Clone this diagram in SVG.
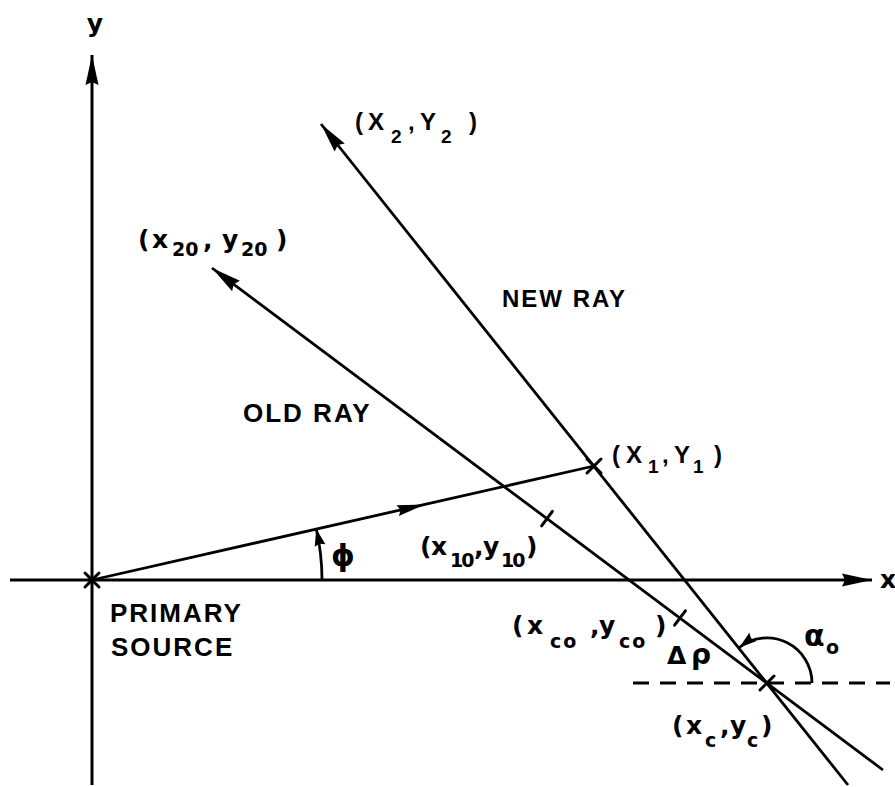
<svg xmlns="http://www.w3.org/2000/svg" width="895" height="787" viewBox="0 0 895 787">
<style>
.ln{stroke:#000;stroke-width:2.8;fill:none;stroke-linecap:butt}
.ax{stroke:#000;stroke-width:3;fill:none}
.thin{stroke:#000;stroke-width:2.8;fill:none}
.cr{stroke:#000;stroke-width:3;stroke-linecap:round}
text{font-family:"Liberation Sans",Arial,sans-serif;font-weight:bold;fill:#000}
.lab{font-size:24px}
.low{font-family:"DejaVu Sans",sans-serif;font-size:25px}
.sub{font-size:19px}
.big{font-size:26px;letter-spacing:2px}
.gr{font-family:"DejaVu Sans",sans-serif;font-weight:bold}
</style>
<defs>
<marker id="ah" markerUnits="userSpaceOnUse" markerWidth="34" markerHeight="16" refX="30" refY="8" orient="auto" overflow="visible">
<path d="M0,1.5 L30,8 L0,14.5 L3,8 z" fill="#000"/>
</marker>
<marker id="ahs" markerUnits="userSpaceOnUse" markerWidth="20" markerHeight="14" refX="17" refY="7" orient="auto" overflow="visible">
<path d="M0,1.5 L17,7 L0,12.5 L2,7 z" fill="#000"/>
</marker>
<marker id="ahm" markerUnits="userSpaceOnUse" markerWidth="34" markerHeight="16" refX="28" refY="8" orient="auto" overflow="visible">
<path d="M0,2.5 L28,8 L0,13.5 L3,8 z" fill="#000"/>
</marker>
</defs>

<g id="connectors">
<path id="y-axis" class="ax" d="M92,785 L92,55" marker-end="url(#ah)"/>
<path id="x-axis" class="ax" d="M10,580 L872,580" marker-end="url(#ah)"/>
<path id="new-ray" class="ln" d="M848,785 L321,124" marker-end="url(#ah)"/>
<path id="old-ray" class="ln" d="M883,770 L212,268" marker-end="url(#ah)"/>
<path id="source-ray" class="ln" d="M92,580 L425,504.4 L594,466" marker-mid="url(#ahm)"/>
<path id="dashed" class="thin" d="M633,683 L890,683" stroke-dasharray="16 11"/>
<path id="phi-arc" class="thin" d="M322,580 A230,230 0 0 0 316.3,529" marker-end="url(#ahs)"/>
<path id="alpha-arc" class="thin" d="M812,683 A45,45 0 0 0 739.3,647.5" marker-end="url(#ahs)"/>
</g>

<g id="origin">
<line class="cr" x1="85" y1="573" x2="99" y2="587"/>
<line class="cr" x1="99" y1="573" x2="85" y2="587"/>
</g>
<g id="p-x1y1">
<line class="cr" x1="587" y1="459" x2="601" y2="473"/>
<line class="cr" x1="601" y1="459" x2="587" y2="473"/>
</g>
<g id="p-x10y10">
<line class="cr" x1="552.4" y1="511.4" x2="541.6" y2="525.8"/>
</g>
<g id="p-xcoyco">
<line class="cr" x1="685.4" y1="610.8" x2="674.6" y2="625.2"/>
</g>
<g id="p-xcyc">
<line class="cr" x1="760" y1="676" x2="774" y2="690"/>
<line class="cr" x1="774" y1="676" x2="760" y2="690"/>
</g>

<g id="labels">
<text class="low" x="95" y="32" text-anchor="middle">y</text>
<text class="low" x="880" y="588">x</text>
<text class="lab"><tspan x="355" y="130">(</tspan><tspan x="368" y="130">X</tspan><tspan class="sub" x="391" y="143">2</tspan><tspan x="408" y="130">,</tspan><tspan x="420" y="130">Y</tspan><tspan class="sub" x="441" y="143">2</tspan><tspan x="469" y="130">)</tspan></text>
<text class="low"><tspan x="138" y="248">(</tspan><tspan x="152" y="248">x</tspan><tspan class="sub" x="172" y="256">20</tspan><tspan x="203" y="248">,</tspan><tspan x="222" y="248">y</tspan><tspan class="sub" x="241" y="256">20</tspan><tspan x="276" y="248">)</tspan></text>
<text class="lab" x="502" y="307" letter-spacing="2">NEW RAY</text>
<text class="big" x="243" y="422">OLD RAY</text>
<text class="lab"><tspan x="612" y="463">(</tspan><tspan x="626" y="463">X</tspan><tspan class="sub" x="648" y="473">1</tspan><tspan x="662" y="463">,</tspan><tspan x="674" y="463">Y</tspan><tspan class="sub" x="693" y="473">1</tspan><tspan x="714" y="463">)</tspan></text>
<text class="low"><tspan x="420" y="555">(</tspan><tspan x="431" y="555">x</tspan><tspan class="sub" x="450" y="567" font-size="17" letter-spacing="-2">10</tspan><tspan x="474" y="555">,</tspan><tspan x="483" y="555">y</tspan><tspan class="sub" x="501" y="567" font-size="17" letter-spacing="-2">10</tspan><tspan x="526" y="555">)</tspan></text>
<text class="big" x="110" y="622">PRIMARY</text>
<text class="big" x="111" y="656">SOURCE</text>
<text class="gr" x="343" y="566" font-size="30" text-anchor="middle">ϕ</text>
<text class="low"><tspan x="512" y="634">(</tspan><tspan x="527" y="634">x</tspan><tspan class="sub" x="550" y="648" letter-spacing="2">co</tspan><tspan x="590" y="634">,</tspan><tspan x="599" y="634">y</tspan><tspan class="sub" x="619" y="648" letter-spacing="2">co</tspan><tspan x="655" y="634">)</tspan></text>
<text class="low"><tspan x="667" y="664">Δ</tspan><tspan class="gr" x="691" y="664" font-size="28">ρ</tspan></text>
<text class="low"><tspan class="gr" x="804" y="646" font-size="30">α</tspan><tspan class="sub" x="826" y="654">o</tspan></text>
<text class="low"><tspan x="672" y="734">(</tspan><tspan x="686" y="734">x</tspan><tspan class="sub" x="705" y="747">c</tspan><tspan x="720" y="734">,</tspan><tspan x="730" y="734">y</tspan><tspan class="sub" x="747" y="747">c</tspan><tspan x="761" y="734">)</tspan></text>
</g>
</svg>
